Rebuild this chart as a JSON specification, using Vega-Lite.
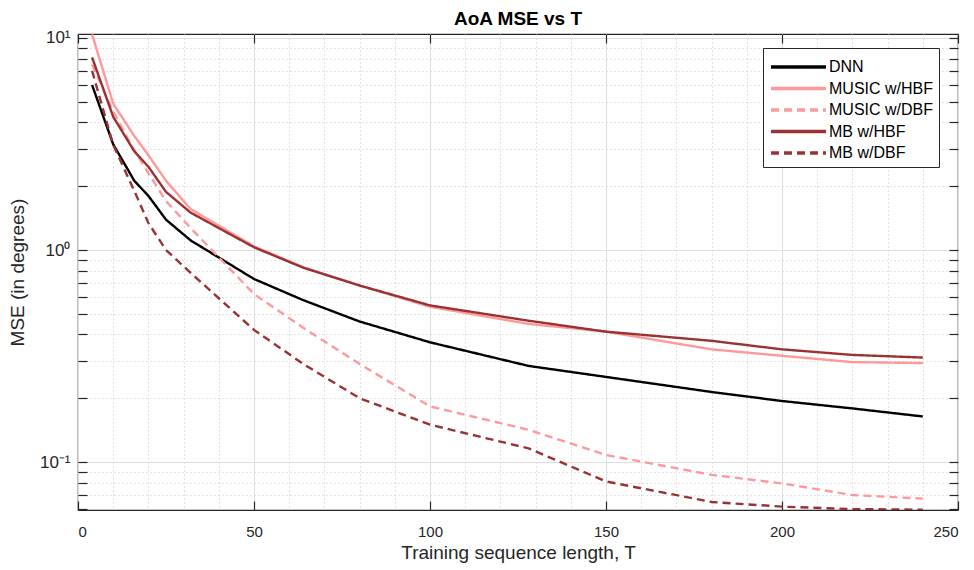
{
  "$schema": "https://vega.github.io/schema/vega-lite/v6.json",
  "width": 880,
  "height": 476,
  "autosize": "none",
  "padding": {"left": 78, "top": 34, "right": 16, "bottom": 60},
  "background": "white",
  "title": {"text": "AoA MSE vs T", "fontSize": 19, "fontWeight": "bold", "font": "Liberation Sans", "color": "#000000", "anchor": "middle", "baseline": "alphabetic", "offset": -15},
  "config": {
    "view": {"stroke": "#262626", "strokeWidth": 1.2},
    "font": "Liberation Sans"
  },
  "data": {"values": [
    {"T": 4, "MSE": 6.0, "method": "DNN"},
    {"T": 10, "MSE": 3.15, "method": "DNN"},
    {"T": 16, "MSE": 2.12, "method": "DNN"},
    {"T": 20, "MSE": 1.8, "method": "DNN"},
    {"T": 25, "MSE": 1.39, "method": "DNN"},
    {"T": 32, "MSE": 1.11, "method": "DNN"},
    {"T": 50, "MSE": 0.73, "method": "DNN"},
    {"T": 64, "MSE": 0.58, "method": "DNN"},
    {"T": 80, "MSE": 0.46, "method": "DNN"},
    {"T": 100, "MSE": 0.367, "method": "DNN"},
    {"T": 128, "MSE": 0.284, "method": "DNN"},
    {"T": 150, "MSE": 0.252, "method": "DNN"},
    {"T": 180, "MSE": 0.214, "method": "DNN"},
    {"T": 200, "MSE": 0.194, "method": "DNN"},
    {"T": 220, "MSE": 0.179, "method": "DNN"},
    {"T": 240, "MSE": 0.164, "method": "DNN"},

    {"T": 4, "MSE": 10.4, "method": "MUSIC w/HBF"},
    {"T": 10, "MSE": 4.9, "method": "MUSIC w/HBF"},
    {"T": 16, "MSE": 3.45, "method": "MUSIC w/HBF"},
    {"T": 20, "MSE": 2.8, "method": "MUSIC w/HBF"},
    {"T": 25, "MSE": 2.12, "method": "MUSIC w/HBF"},
    {"T": 32, "MSE": 1.56, "method": "MUSIC w/HBF"},
    {"T": 50, "MSE": 1.04, "method": "MUSIC w/HBF"},
    {"T": 64, "MSE": 0.83, "method": "MUSIC w/HBF"},
    {"T": 80, "MSE": 0.68, "method": "MUSIC w/HBF"},
    {"T": 100, "MSE": 0.54, "method": "MUSIC w/HBF"},
    {"T": 128, "MSE": 0.448, "method": "MUSIC w/HBF"},
    {"T": 150, "MSE": 0.412, "method": "MUSIC w/HBF"},
    {"T": 180, "MSE": 0.34, "method": "MUSIC w/HBF"},
    {"T": 200, "MSE": 0.317, "method": "MUSIC w/HBF"},
    {"T": 220, "MSE": 0.296, "method": "MUSIC w/HBF"},
    {"T": 240, "MSE": 0.293, "method": "MUSIC w/HBF"},

    {"T": 4, "MSE": 7.5, "method": "MUSIC w/DBF"},
    {"T": 10, "MSE": 4.5, "method": "MUSIC w/DBF"},
    {"T": 16, "MSE": 2.95, "method": "MUSIC w/DBF"},
    {"T": 20, "MSE": 2.3, "method": "MUSIC w/DBF"},
    {"T": 25, "MSE": 1.7, "method": "MUSIC w/DBF"},
    {"T": 32, "MSE": 1.27, "method": "MUSIC w/DBF"},
    {"T": 50, "MSE": 0.62, "method": "MUSIC w/DBF"},
    {"T": 64, "MSE": 0.43, "method": "MUSIC w/DBF"},
    {"T": 80, "MSE": 0.29, "method": "MUSIC w/DBF"},
    {"T": 100, "MSE": 0.183, "method": "MUSIC w/DBF"},
    {"T": 128, "MSE": 0.142, "method": "MUSIC w/DBF"},
    {"T": 150, "MSE": 0.108, "method": "MUSIC w/DBF"},
    {"T": 180, "MSE": 0.087, "method": "MUSIC w/DBF"},
    {"T": 200, "MSE": 0.0793, "method": "MUSIC w/DBF"},
    {"T": 220, "MSE": 0.0699, "method": "MUSIC w/DBF"},
    {"T": 240, "MSE": 0.0672, "method": "MUSIC w/DBF"},

    {"T": 4, "MSE": 8.1, "method": "MB w/HBF"},
    {"T": 10, "MSE": 4.25, "method": "MB w/HBF"},
    {"T": 16, "MSE": 2.92, "method": "MB w/HBF"},
    {"T": 20, "MSE": 2.47, "method": "MB w/HBF"},
    {"T": 25, "MSE": 1.88, "method": "MB w/HBF"},
    {"T": 32, "MSE": 1.5, "method": "MB w/HBF"},
    {"T": 50, "MSE": 1.03, "method": "MB w/HBF"},
    {"T": 64, "MSE": 0.825, "method": "MB w/HBF"},
    {"T": 80, "MSE": 0.68, "method": "MB w/HBF"},
    {"T": 100, "MSE": 0.548, "method": "MB w/HBF"},
    {"T": 128, "MSE": 0.464, "method": "MB w/HBF"},
    {"T": 150, "MSE": 0.412, "method": "MB w/HBF"},
    {"T": 180, "MSE": 0.373, "method": "MB w/HBF"},
    {"T": 200, "MSE": 0.34, "method": "MB w/HBF"},
    {"T": 220, "MSE": 0.32, "method": "MB w/HBF"},
    {"T": 240, "MSE": 0.311, "method": "MB w/HBF"},

    {"T": 4, "MSE": 7.0, "method": "MB w/DBF"},
    {"T": 10, "MSE": 3.13, "method": "MB w/DBF"},
    {"T": 16, "MSE": 1.9, "method": "MB w/DBF"},
    {"T": 20, "MSE": 1.34, "method": "MB w/DBF"},
    {"T": 25, "MSE": 1.0, "method": "MB w/DBF"},
    {"T": 32, "MSE": 0.78, "method": "MB w/DBF"},
    {"T": 50, "MSE": 0.42, "method": "MB w/DBF"},
    {"T": 64, "MSE": 0.29, "method": "MB w/DBF"},
    {"T": 80, "MSE": 0.2, "method": "MB w/DBF"},
    {"T": 100, "MSE": 0.15, "method": "MB w/DBF"},
    {"T": 128, "MSE": 0.116, "method": "MB w/DBF"},
    {"T": 150, "MSE": 0.081, "method": "MB w/DBF"},
    {"T": 180, "MSE": 0.0648, "method": "MB w/DBF"},
    {"T": 200, "MSE": 0.0616, "method": "MB w/DBF"},
    {"T": 220, "MSE": 0.06, "method": "MB w/DBF"},
    {"T": 240, "MSE": 0.0596, "method": "MB w/DBF"}
  ]},
  "resolve": {"axis": {"x": "independent", "y": "independent"}},
  "layer": [
    {
      "mark": {"type": "line", "strokeWidth": 2.4, "clip": true},
      "encoding": {
        "x": {
          "field": "T", "type": "quantitative",
          "scale": {"domain": [0, 250], "nice": false, "zero": false},
          "axis": {
            "title": "Training sequence length, T",
            "values": [0, 10, 20, 30, 40, 50, 60, 70, 80, 90, 100, 110, 120, 130, 140, 150, 160, 170, 180, 190, 200, 210, 220, 230, 240, 250],
            "labelExpr": "datum.value % 50 === 0 ? datum.label : ''",
            "labelFontSize": 15, "labelColor": "#262626", "labelFont": "Liberation Sans",
            "titleFontSize": 19, "titleFontWeight": "normal", "titleColor": "#262626", "titleFont": "Liberation Sans",
            "labelPadding": 23, "titlePadding": 4,
            "domain": false,
            "tickSize": -9, "tickColor": "#262626", "tickWidth": 1.2,
            "tickOpacity": {"condition": {"test": "datum.value % 50 === 0", "value": 1}, "value": 0},
            "grid": true,
            "gridColor": {"condition": {"test": "datum.value % 50 === 0", "value": "#dedede"}, "value": "#c4c4c4"},
            "gridDash": {"condition": {"test": "datum.value % 50 === 0", "value": []}, "value": [1, 3]},
            "gridWidth": 1
          }
        },
        "y": {
          "field": "MSE", "type": "quantitative",
          "scale": {"type": "log", "domain": [0.0594, 10.44], "nice": false},
          "axis": {
            "title": "MSE (in degrees)",
            "values": [0.06, 0.07, 0.08, 0.09, 0.1, 0.2, 0.3, 0.4, 0.5, 0.6, 0.7, 0.8, 0.9, 1, 2, 3, 4, 5, 6, 7, 8, 9, 10],
            "labelExpr": "datum.value === 10 ? '10¹' : datum.value === 1 ? '10⁰' : datum.value === 0.1 ? '10⁻¹' : ''",
            "labelFontSize": 17, "labelColor": "#262626", "labelFont": "Liberation Sans",
            "titleFontSize": 19, "titleFontWeight": "normal", "titleColor": "#262626", "titleFont": "Liberation Sans",
            "labelPadding": 17, "titlePadding": 12,
            "domain": false,
            "tickSize": -9, "tickColor": "#262626", "tickWidth": 1.2,
            "grid": true,
            "gridColor": {"condition": {"test": "datum.value === 0.1 || datum.value === 1 || datum.value === 10", "value": "#dedede"}, "value": "#c4c4c4"},
            "gridDash": {"condition": {"test": "datum.value === 0.1 || datum.value === 1 || datum.value === 10", "value": []}, "value": [1, 3]},
            "gridWidth": 1
          }
        },
        "color": {
          "field": "method", "type": "nominal",
          "scale": {"domain": ["DNN", "MUSIC w/HBF", "MUSIC w/DBF", "MB w/HBF", "MB w/DBF"], "range": ["#000000", "#FF9999", "#FF9999", "#993333", "#993333"]},
          "legend": {
            "title": null,
            "orient": "none", "legendX": 685, "legendY": 14,
            "symbolType": "M-1,0H4", "symbolSize": 484, "symbolStrokeWidth": 3.5, "symbolFillColor": "transparent",
            "labelFontSize": 16, "labelColor": "#000000", "labelFont": "Liberation Sans", "labelOffset": 34,
            "strokeColor": "#262626", "fillColor": "white",
            "padding": 6, "rowPadding": 0.5
          }
        },
        "strokeDash": {
          "field": "method", "type": "nominal",
          "scale": {"domain": ["DNN", "MUSIC w/HBF", "MUSIC w/DBF", "MB w/HBF", "MB w/DBF"], "range": [[1, 0], [1, 0], [8, 5], [1, 0], [8, 5]]},
          "legend": null
        }
      }
    },
    {
      "mark": {"type": "point", "opacity": 0},
      "encoding": {
        "x": {
          "field": "T", "type": "quantitative",
          "scale": {"domain": [0, 250], "nice": false, "zero": false},
          "axis": {"orient": "top", "values": [0, 50, 100, 150, 200, 250], "labels": false, "title": null, "domain": false, "grid": false, "tickSize": -9, "tickColor": "#262626", "tickWidth": 1.2}
        },
        "y": {
          "field": "MSE", "type": "quantitative",
          "scale": {"type": "log", "domain": [0.0594, 10.44], "nice": false},
          "axis": {"orient": "right", "values": [0.06, 0.07, 0.08, 0.09, 0.1, 0.2, 0.3, 0.4, 0.5, 0.6, 0.7, 0.8, 0.9, 1, 2, 3, 4, 5, 6, 7, 8, 9, 10], "labels": false, "title": null, "domain": false, "grid": false, "tickSize": -9, "tickColor": "#262626", "tickWidth": 1.2}
        }
      }
    }
  ]
}
